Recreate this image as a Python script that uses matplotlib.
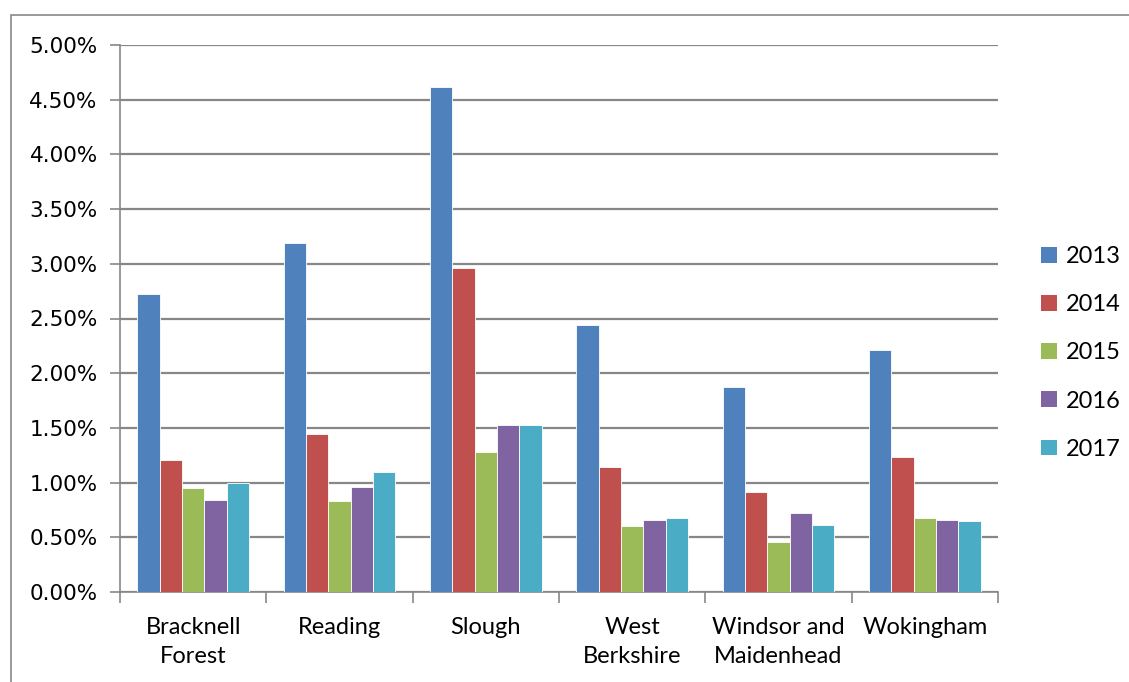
import numpy as np
import matplotlib
matplotlib.use("Agg")
import matplotlib.pyplot as plt
from matplotlib.patches import Rectangle
from matplotlib.ticker import FixedLocator, FuncFormatter

# -- Data (percent) --

areas = ["Bracknell\nForest", "Reading", "Slough", "West\nBerkshire",
         "Windsor and\nMaidenhead", "Wokingham"]
years = ["2013", "2014", "2015", "2016", "2017"]
rate_2013 = [2.72, 3.19, 4.62, 2.44, 1.87, 2.21]
rate_2014 = [1.21, 1.44, 2.96, 1.14, 0.91, 1.23]
rate_2015 = [0.95, 0.83, 1.28, 0.60, 0.46, 0.68]
rate_2016 = [0.84, 0.96, 1.53, 0.66, 0.72, 0.66]
rate_2017 = [1.00, 1.10, 1.53, 0.68, 0.61, 0.65]
rates = [rate_2013, rate_2014, rate_2015, rate_2016, rate_2017]
colors = ["#4F81BD", "#C0504D", "#9BBB59", "#8064A2", "#4BACC6"]

grey = "#878787"
label_font = ["Lato", "DejaVu Sans"]

# -- Plotting code --

fig = plt.figure(figsize=(11.29, 6.82), dpi=100)
W, H = 1129, 682
ax = fig.add_axes([120 / W, 1 - 592 / H, 878 / W, 547 / H])

# outer chart border
fig.patches.append(Rectangle((11 / W, -0.05), 1.2, 1 - 15 / H + 0.05,
                             transform=fig.transFigure, fill=False,
                             edgecolor=grey, linewidth=1.2))

x = np.arange(len(areas))
width = 0.1525
for i, (yr, vals) in enumerate(zip(years, rates)):
    ax.bar(x + (i - 2) * width, vals, width, color=colors[i], label=yr,
           edgecolor="white", linewidth=0.6, zorder=3)

ax.set_xlim(-0.5, len(areas) - 0.5)
ax.set_ylim(0, 5)
ax.yaxis.set_major_locator(FixedLocator(np.arange(0, 5.01, 0.5)))
ax.yaxis.set_major_formatter(FuncFormatter(lambda v, p: f"{v:.2f}%"))
ax.grid(axis="y", color=grey, linewidth=1.6, zorder=0)

# category boundary ticks, labels centred in between
ax.set_xticks(np.arange(-0.5, len(areas)), minor=False)
ax.set_xticklabels([])
ax.set_xticks(x, minor=True)
ax.set_xticklabels(areas, minor=True, fontsize=17, family=label_font,
                   linespacing=1.48)
ax.tick_params(axis="x", which="minor", length=0, pad=18)
ax.tick_params(axis="x", which="major", length=8, width=1.2, color=grey)
ax.tick_params(axis="y", length=7, width=1.2, color=grey, labelsize=15.5,
               pad=9)

for side in ["top", "right"]:
    ax.spines[side].set_visible(False)
for side in ["left", "bottom"]:
    ax.spines[side].set_color(grey)
    ax.spines[side].set_linewidth(1.2)

leg = ax.legend(loc="center left", bbox_to_anchor=(1.025, 0.437), frameon=False,
                prop={"family": label_font, "size": 17}, handlelength=0.65,
                handleheight=0.65, handletextpad=0.4, labelspacing=1.15)
for h in leg.legend_handles:
    h.set_edgecolor("none")

fig.savefig("out.png", dpi=100)
